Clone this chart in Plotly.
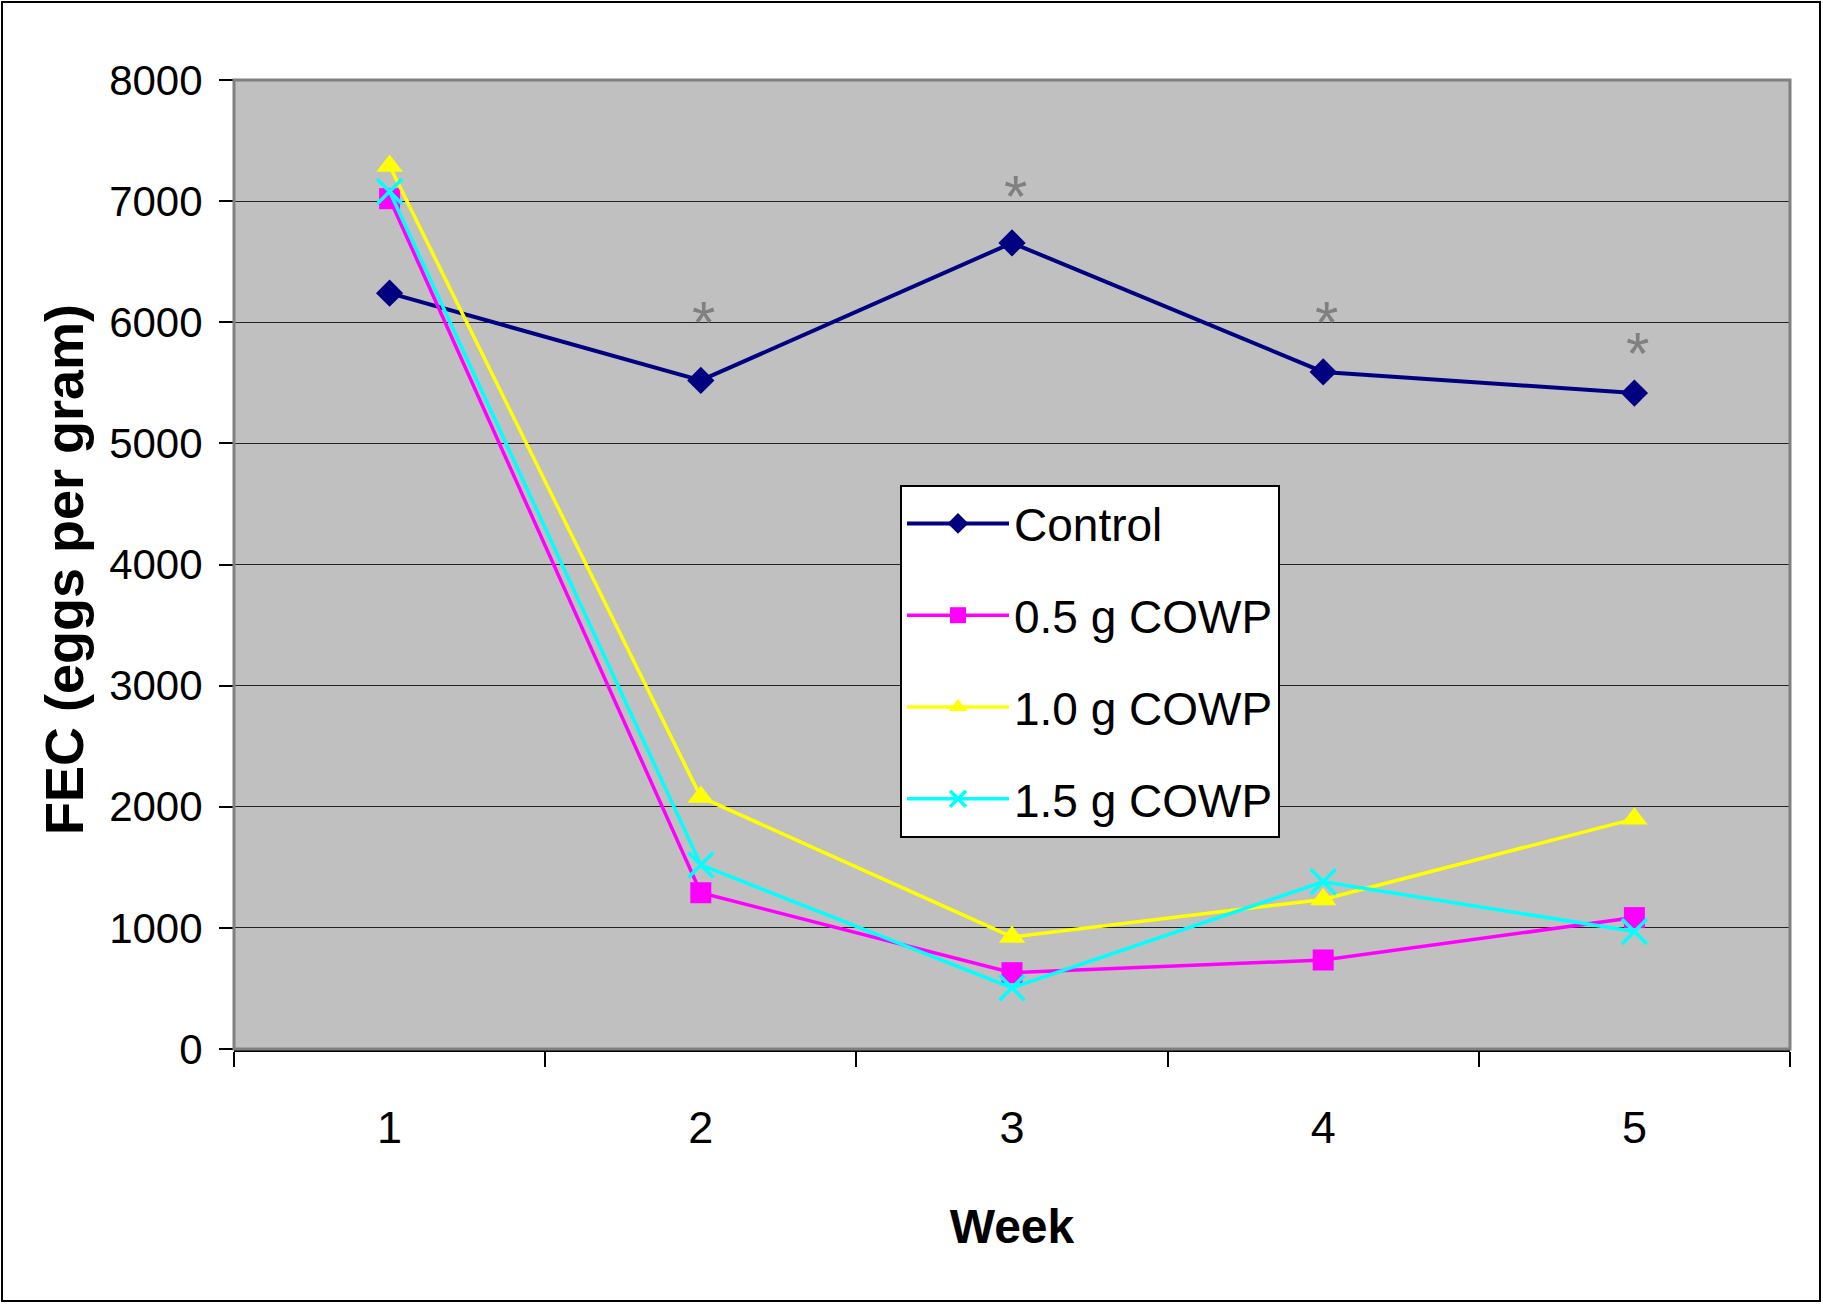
import plotly.graph_objects as go

# data
weeks = ["1", "2", "3", "4", "5"]
control = [6240, 5520, 6655, 5590, 5415]
cowp_05 = [7020, 1290, 630, 735, 1085]
cowp_10 = [7290, 2080, 925, 1235, 1900]
cowp_15 = [7080, 1520, 505, 1380, 970]

# significance stars above the control line
star_weeks = ["2", "3", "4", "5"]
star_y = [6054, 7100, 6054, 5798]

FONT = "Liberation Sans, Arial, sans-serif"

W, H = 1823, 1304
L, T = 234, 80
PW, PH = 1556, 969

series = [
    ("Control", control, "#000080", dict(symbol="diamond", size=21), 4),
    ("0.5 g COWP", cowp_05, "#FF00FF", dict(symbol="square", size=21), 3.5),
    ("1.0 g COWP", cowp_10, "#FFFF00", dict(symbol="triangle-up", size=23), 3.5),
    ("1.5 g COWP", cowp_15, "#00FFFF",
     dict(symbol="x-thin-open", size=25, line=dict(width=3.5, color="#00FFFF")), 3.5),
]

fig = go.Figure()
for name, vals, col, mk, lw in series:
    fig.add_trace(go.Scatter(
        x=weeks, y=vals, name=name, mode="lines+markers",
        line=dict(color=col, width=lw),
        marker=dict(color=col, **mk),
        legendgroup=name,
    ))

for w, y in zip(star_weeks, star_y):
    # category axis: use the index so "2" is not read as position 2
    fig.add_annotation(x=weeks.index(w), y=y, text="*", showarrow=False, xshift=3, yshift=-7,
                       font=dict(family=FONT, size=60, color="#808080"))

# y title as a rotated annotation so it can sit close to the tick labels
fig.add_annotation(xref="paper", yref="paper", x=(64 - L) / PW, y=(1049 - 570) / PH,
                   text="<b>FEC (eggs per gram)</b>", textangle=-90, showarrow=False,
                   xanchor="center", yanchor="middle",
                   font=dict(family=FONT, size=54, color="black"))

# grey plot-area frame, like the Excel original
fig.add_shape(type="rect", xref="paper", yref="paper", x0=0, x1=1, y0=0, y1=1,
              line=dict(color="#808080", width=3), layer="above")
# outer chart border
fig.add_shape(type="rect", xref="paper", yref="paper",
              x0=-(L - 2) / PW, x1=1 + (W - L - PW - 3) / PW,
              y0=-(H - T - PH - 3) / PH, y1=1 + (T - 2) / PH,
              line=dict(color="#000000", width=2))

fig.update_layout(
    width=W, height=H,
    margin=dict(l=L, r=W - L - PW, t=T, b=H - T - PH),
    paper_bgcolor="white",
    plot_bgcolor="#C0C0C0",
    font=dict(family=FONT, color="black"),
    showlegend=True,
    legend=dict(
        x=(900 - L) / PW, y=(1049 - 485) / PH, xanchor="left", yanchor="top",
        bgcolor="white", bordercolor="black", borderwidth=2,
        font=dict(family=FONT, size=46, color="black"),
        itemwidth=102, tracegroupgap=29,
    ),
    xaxis=dict(
        type="category", range=[-0.5, 4.5],
        tickson="boundaries", ticks="outside", ticklen=15, tickwidth=1.5, tickcolor="black",
        showline=True, linecolor="black", linewidth=3,
        showgrid=False, zeroline=False,
        tickfont=dict(family=FONT, size=45),
        ticklabelstandoff=37,
        title=dict(text="<b>Week</b>", font=dict(family=FONT, size=48), standoff=58),
    ),
    yaxis=dict(
        range=[0, 8000], dtick=1000, tick0=0,
        ticks="outside", ticklen=14, tickwidth=1.5, tickcolor="black",
        showline=False,
        showgrid=True, gridcolor="#222222", gridwidth=1.2,
        zeroline=False,
        tickfont=dict(family=FONT, size=42),
        ticklabelstandoff=8,
    ),
)

# drop the page's default body margin so the figure fills the window
fig.write_html("out.html", config={"displayModeBar": False},
               post_script="document.body.style.margin = '0';")
